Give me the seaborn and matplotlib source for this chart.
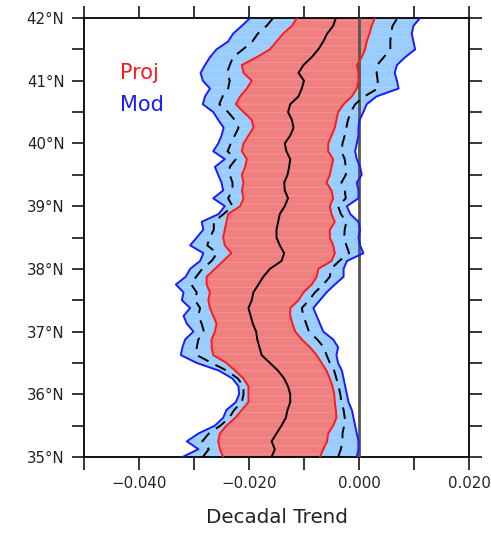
import numpy as np
import pandas as pd
import matplotlib
matplotlib.use("Agg")
import matplotlib.pyplot as plt
import seaborn as sns

# Latitude grid (degrees N), 0.125 deg steps from 35N to 42N
lat = [35.0 + 0.125 * i for i in range(57)]

# Values, in units of 1e-3 (decadal trend)
mod_lo = [-32.1, -29.2, -31.3, -29.2, -26.2, -24.7, -24.1, -22.4, -21.8, -21.9,
          -23.0, -25.4, -29.5, -32.4, -32.1, -31.6, -30.1, -31.3, -31.9, -30.7,
          -32.2, -31.9, -33.3, -31.5, -30.7, -28.9, -28.3, -30.7, -29.5, -28.3,
          -28.6, -25.5, -24.4, -26.5, -24.7, -25.0, -25.6, -26.2, -24.4, -26.5,
          -25.6, -25.0, -24.6, -25.6, -26.5, -28.4, -28.0, -27.1, -28.4, -28.8,
          -28.0, -27.1, -25.9, -23.8, -22.9, -21.3, -19.8]
mod_hi = [-0.4, -0.1, -0.1, -0.4, -0.7, -1.0, -1.3, -1.9, -2.2, -2.5,
          -2.8, -3.1, -3.8, -4.1, -3.8, -4.7, -6.5, -7.1, -7.7, -8.3,
          -7.1, -5.9, -4.4, -2.8, -2.8, -2.2, 0.8, 0.2, -0.1, 0.2,
          -0.1, -1.6, -2.2, -0.1, -0.1, -0.4, 0.5, 0.2, -0.4, -0.7,
          -0.4, -0.1, -0.1, 0.1, 0.8, 1.4, 3.2, 7.2, 6.9, 6.5,
          6.9, 8.4, 10.2, 9.9, 9.6, 9.9, 11.1]
proj_lo = [-24.7, -25.3, -25.6, -25.3, -24.1, -22.5, -21.3, -20.1, -20.1, -20.1,
           -21.0, -22.5, -24.1, -26.5, -26.8, -26.8, -26.2, -25.9, -26.5, -27.1,
           -27.4, -27.1, -27.7, -27.7, -26.2, -24.7, -23.2, -24.4, -24.7, -24.4,
           -24.1, -23.8, -21.6, -21.0, -21.3, -21.0, -21.3, -20.7, -20.4, -21.3,
           -21.0, -20.1, -19.2, -19.5, -21.0, -22.4, -21.6, -20.4, -19.5, -21.0,
           -21.3, -18.6, -16.2, -15.0, -13.8, -12.2, -11.3]
proj_hi = [-7.1, -6.5, -5.8, -5.6, -4.7, -4.1, -4.2, -4.4, -4.5, -4.8,
           -5.3, -5.9, -6.8, -7.7, -8.9, -10.4, -11.6, -12.1, -12.5, -12.5,
           -11.0, -10.1, -8.6, -7.7, -7.4, -5.0, -4.4, -4.7, -5.3, -5.3,
           -4.4, -5.0, -5.3, -4.7, -5.0, -5.9, -5.3, -5.0, -4.7, -5.6,
           -5.6, -5.0, -4.4, -4.1, -3.8, -2.8, -1.3, -0.4, -0.1, -0.1,
           -0.4, 0.5, 1.1, 1.4, 1.9, 2.3, 2.9]
center = [-15.9, -15.3, -15.9, -15.0, -14.1, -13.3, -13.0, -12.5, -12.5, -12.9,
          -13.6, -14.7, -16.2, -17.7, -18.1, -18.5, -18.7, -19.3, -19.7, -20.1,
          -19.5, -19.2, -18.3, -17.4, -16.2, -14.1, -13.6, -14.4, -15.0, -15.0,
          -14.7, -14.4, -13.5, -12.9, -13.5, -13.6, -13.0, -12.7, -12.5, -13.2,
          -13.5, -12.5, -11.9, -12.2, -12.9, -12.5, -11.0, -10.4, -10.0, -11.0,
          -10.1, -8.6, -7.4, -6.5, -5.8, -4.7, -4.2]
dash_lo = [-28.4, -27.3, -28.5, -27.3, -25.2, -23.6, -22.7, -21.3, -21.0, -21.0,
           -22.0, -24.0, -26.8, -29.5, -29.5, -29.2, -28.2, -28.6, -29.2, -28.9,
           -29.8, -29.5, -30.5, -29.6, -28.5, -26.8, -25.8, -27.6, -27.1, -26.4,
           -26.4, -24.6, -23.0, -23.8, -23.0, -23.0, -23.5, -23.5, -22.4, -23.9,
           -23.3, -22.6, -21.9, -22.6, -23.8, -25.4, -24.8, -23.8, -23.5, -24.0,
           -23.5, -22.9, -21.1, -19.4, -18.4, -16.8, -15.6]
dash_hi = [-3.8, -3.3, -3.0, -3.0, -2.7, -2.6, -2.8, -3.2, -3.4, -3.7,
           -4.1, -4.5, -5.3, -5.9, -6.4, -7.6, -9.1, -9.6, -10.1, -10.4,
           -9.1, -8.0, -6.5, -5.3, -5.1, -3.6, -1.8, -2.3, -2.7, -2.6,
           -2.3, -3.3, -3.8, -2.4, -2.6, -3.2, -2.4, -2.4, -2.6, -3.2,
           -3.0, -2.6, -2.3, -2.0, -1.5, -0.7, 1.0, 3.4, 3.4, 3.2,
           3.3, 4.5, 5.7, 5.7, 5.8, 6.1, 7.0]

xticks = [-0.05, -0.04, -0.03, -0.02, -0.01, 0.0, 0.01, 0.02]
xticklabels = ["", "\u22120.040", "", "\u22120.020", "", "0.000", "", "0.020"]
yticks = [35, 35.5, 36, 36.5, 37, 37.5, 38, 38.5, 39, 39.5, 40, 40.5, 41, 41.5, 42]
yticklabels = ["35\u00b0N", "", "36\u00b0N", "", "37\u00b0N", "", "38\u00b0N", "",
               "39\u00b0N", "", "40\u00b0N", "", "41\u00b0N", "", "42\u00b0N"]

sc = 1e-3
df = pd.DataFrame({
    "lat": lat,
    "mod_lo": np.array(mod_lo) * sc, "mod_hi": np.array(mod_hi) * sc,
    "proj_lo": np.array(proj_lo) * sc, "proj_hi": np.array(proj_hi) * sc,
    "center": np.array(center) * sc,
    "dash_lo": np.array(dash_lo) * sc, "dash_hi": np.array(dash_hi) * sc,
})

sns.set_style("white")
plt.rcParams["font.family"] = ["DejaVu Sans"]
plt.rcParams["hatch.linewidth"] = 0.5

fig = plt.figure(figsize=(4.91, 5.33), dpi=100)
ax = fig.add_axes([84 / 491, 1 - 457 / 533, (469 - 84) / 491, (457 - 18) / 533])

blue_fill = "#99CCFF"
red_fill = "#F08080"

ax.fill_betweenx(df["lat"], df["mod_lo"], df["mod_hi"], color=blue_fill, lw=0, zorder=1)
ax.fill_betweenx(df["lat"], df["mod_lo"], df["mod_hi"], facecolor="none",
                 edgecolor="#B0D8FF", hatch="--", lw=0, zorder=1.1)
ax.fill_betweenx(df["lat"], df["proj_lo"], df["proj_hi"], color=red_fill, lw=0, zorder=2)
ax.fill_betweenx(df["lat"], df["proj_lo"], df["proj_hi"], facecolor="none",
                 edgecolor="#F29C9C", hatch="--", lw=0, zorder=2.1)

ax.axvline(0.0, color="#555555", lw=2.0, zorder=3)

lw = 1.4
for col, c, ls in [("mod_lo", "#1A1AFF", "-"), ("mod_hi", "#1A1AFF", "-"),
                   ("proj_lo", "#FF1A1A", "-"), ("proj_hi", "#FF1A1A", "-"),
                   ("dash_lo", "black", (0, (6, 4))), ("dash_hi", "black", (0, (6, 4))),
                   ("center", "black", "-")]:
    sns.lineplot(data=df, x=col, y="lat", orient="y", sort=False, ax=ax,
                 color=c, lw=lw, linestyle=ls, zorder=4)

ax.set_xlim(-0.05, 0.02)
ax.set_ylim(35, 42)
ax.set_xticks(xticks)
ax.set_xticklabels(xticklabels)
ax.set_yticks(yticks)
ax.set_yticklabels(yticklabels)
ax.tick_params(axis="both", which="major", direction="out", length=9, width=1.1,
               labelsize=10.8, colors="black", labelcolor="#222222",
               top=True, right=True, bottom=True, left=True, pad=5)
ax.set_ylabel("")
ax.set_xlabel("Decadal Trend", fontsize=14.3, labelpad=12, color="#222222")
for s in ax.spines.values():
    s.set_linewidth(1.3)
    s.set_color("black")

ax.text(-0.0435, 41.12, "Proj", color="#FF1A1A", fontsize=15, va="center", ha="left")
ax.text(-0.0435, 40.61, "Mod", color="#1A1AFF", fontsize=15, va="center", ha="left")

fig.savefig("out.png", dpi=100)
